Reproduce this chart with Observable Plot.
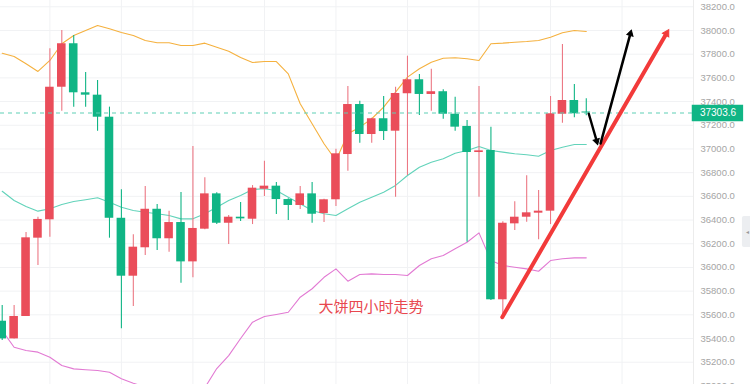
<!DOCTYPE html>
<html><head><meta charset="utf-8">
<script src="https://cdn.jsdelivr.net/npm/d3@7"></script>
<script src="https://cdn.jsdelivr.net/npm/@observablehq/plot@0.6"></script>
<style>
html,body{margin:0;padding:0;background:#fff;}
#chart{width:750px;height:384px;overflow:hidden;}
</style></head><body><div id="chart"></div>
<script>
// ---- data (4h BTC candles) ----
const open  = [35546,35397,35586,36247,36402,37521,37888,37474,37454,37268,36415,35926,36166,36491,36242,36379,36047,36323,36621,36373,36424,36407,36660,36686,36573,36523,36621,36455,36571,36953,37375,37122,37255,37150,37466,37584,37460,37483,37293,37190,36970,36987,35727,36368,36424,36458,36475,37293,37409,37312];
const close = [35397,35586,36250,36405,37521,37888,37474,37454,37268,36415,35926,36171,36491,36242,36379,36047,36329,36621,36373,36424,36410,36669,36686,36573,36523,36621,36449,36571,36959,37375,37122,37255,37147,37468,37584,37460,37483,37293,37184,36970,36984,35727,36373,36424,36461,36475,37297,37409,37297,37303.6];
const high  = [35679,35679,36295,36424,37846,38000,37958,37645,37578,37353,36655,36275,36683,36531,36475,36632,37021,36757,36630,36438,36548,36691,36897,36717,36580,36683,36717,36575,36998,37527,37403,37260,37443,37521,37783,37629,37673,37499,37437,37240,37527,37184,36385,36554,36773,36649,37443,37882,37544,37423];
const low   = [35383,35396,35586,36016,36255,37319,37353,37353,37150,36247,35482,35670,36101,36143,36128,35867,35912,36318,36362,36193,36388,36362,36599,36447,36396,36489,36373,36379,36514,36812,37049,37049,37071,36593,36776,37282,37319,37251,37150,36213,36593,35721,35580,36312,36382,36233,36362,37218,37263,37280];
const bollUpper  = [37808,37781,37719,37654,37747,37888,37958,38000,38042,38014,37983,37958,37916,37896,37896,37873,37873,37893,37859,37825,37772,37730,37738,37738,37634,37381,37212,37044,36903,37128,37184,37255,37353,37479,37606,37677,37732,37766,37770,37761,37747,37888,37893,37901,37907,37916,37943,37981,38000,37992];
const bollMiddle = [36643,36565,36514,36475,36495,36531,36556,36571,36588,36551,36508,36480,36466,36453,36438,36410,36410,36453,36508,36565,36607,36658,36664,36649,36593,36537,36480,36453,36438,36495,36551,36593,36635,36692,36776,36846,36888,36917,36964,36987,37021,36987,36973,36959,36951,36939,36987,37015,37038,37038];
const bollLower  = [35467,35326,35299,35285,35242,35172,35144,35136,35130,35115,35060,35023,34990,34960,34930,34900,34880,34985,35147,35256,35400,35538,35586,35603,35622,35749,35820,35917,35988,35884,35940,35946,35940,35940,35932,36016,36073,36101,36157,36213,36292,36058,36016,36002,35988,35968,36058,36073,36081,36081];
const tickValues = [35000,35200,35400,35600,35800,36000,36200,36400,36600,36800,37000,37200,37400,37600,37800,38000,38200];
const gridIdx = [4,10,16,22,28,34,40,46,52];
const lastPrice = 37303.6;
const noteText = "大饼四小时走势";
const noteX = 26.53, noteY = 35664;
// annotation arrows (candle index, price)
const arrowX1 = [41.95, 49.21, 50.2];
const arrowY1 = [35580, 37297, 37046];
const arrowX2 = [56.12, 50.03, 52.85];
const arrowY2 = [38042, 37012, 38028];
const arrowColor = ["#f23a3a", "#000000", "#000000"];
const arrowWidth = [4, 2.4, 2.6];
const arrowHead = [6.2, 4.6, 4.6];

// ---- build ----
const RED = "#ea4d5a", GREEN = "#10b585";
const xMin = -0.1426, xMax = 57.995, yMin = 35012, yMax = 38253;
const W = 750, H = 384, MR = 57;
const kx = (W - MR) / (xMax - xMin), ky = H / (yMax - yMin);
const candles = open.map((o, i) => ({i, o, c: close[i], h: high[i], l: low[i], up: close[i] >= o}));
const bands = open.map((_, i) => ({i, u: bollUpper[i], m: bollMiddle[i], lo: bollLower[i]}));
const arrows = arrowX1.map((x1, k) => {
  const x2 = arrowX2[k], y1 = arrowY1[k], y2 = arrowY2[k];
  const dxp = (x2 - x1) * kx, dyp = -(y2 - y1) * ky;
  const len = Math.hypot(dxp, dyp), ux = dxp / len, uy = dyp / len;
  const r = arrowHead[k], off = 1.45 * r;
  return {x1, y1, x2, y2, c: arrowColor[k], w: arrowWidth[k], r,
    hx: x2 - ux * off / kx, hy: y2 + uy * off / ky,
    ex: x2 - ux * off * 1.3 / kx, ey: y2 + uy * off * 1.3 / ky,
    rot: Math.atan2(dxp, -dyp) * 180 / Math.PI};
});

const chart = Plot.plot({
  width: W, height: H,
  marginTop: 0, marginBottom: 0, marginLeft: 0, marginRight: MR,
  style: {background: "#fff", fontFamily: "'Liberation Sans', Arial, sans-serif", overflow: "hidden"},
  x: {domain: [xMin, xMax], axis: null},
  y: {domain: [yMin, yMax]},
  color: {type: "identity"},
  marks: [
    Plot.ruleY(tickValues, {stroke: "#f1f2f4", strokeWidth: 1}),
    Plot.ruleX(gridIdx, {stroke: "#f1f2f4", strokeWidth: 1}),
    Plot.ruleX([xMax], {stroke: "#ececec", strokeWidth: 1}),
    Plot.line(bands, {x: "i", y: "u", stroke: "#f5b13f", strokeWidth: 1.1, clip: true}),
    Plot.line(bands, {x: "i", y: "m", stroke: "#62d3ba", strokeWidth: 1.1, clip: true}),
    Plot.line(bands, {x: "i", y: "lo", stroke: "#e27ad3", strokeWidth: 1.1, clip: true}),
    Plot.ruleX(candles, {x: "i", y1: "l", y2: "h", stroke: d => d.up ? "#ec7884" : GREEN, strokeWidth: 1.1}),
    Plot.rect(candles, {x1: d => d.i - 0.36, x2: d => d.i + 0.36, y1: "o", y2: "c", fill: d => d.up ? RED : GREEN}),
    Plot.ruleY([lastPrice], {x1: () => xMin, x2: () => 57.9, stroke: "#5fd0b6", strokeWidth: 1.2, strokeDasharray: "4,4"}),
    Plot.axisY(tickValues, {anchor: "right", tickSize: 0, tickPadding: 7, tickFormat: d => d.toFixed(1), fontSize: 9.5, fill: "#a5a5a5", label: null}),
    Plot.ruleY([lastPrice], {x1: () => 57.89, x2: () => 62.2, stroke: GREEN, strokeWidth: 16.4}),
    Plot.text([lastPrice], {x: () => 60.05, y: d => d, text: d => d.toFixed(1), fill: "#ffffff", fontSize: 10}),
    Plot.rect([0], {x1: () => 62.1, x2: () => 63.0, y1: () => 36168, y2: () => 36430, fill: "#eceef1", rx: 2}),
    Plot.text(["◂"], {x: () => 62.55, y: () => 36299, text: d => d, fill: "#999", fontSize: 6}),
    Plot.text([noteText], {x: () => noteX, y: () => noteY, text: d => d, textAnchor: "start", fontSize: 15, fill: "#e8484f", fontFamily: "'Noto Sans CJK SC', sans-serif"}),
    Plot.link(arrows, {x1: "x1", y1: "y1", x2: "ex", y2: "ey", stroke: "c", strokeWidth: "w", strokeLinecap: "round"}),
    Plot.dot(arrows, {x: "hx", y: "hy", r: "r", rotate: "rot", symbol: "triangle2", fill: "c", stroke: "c", strokeWidth: 1, strokeLinejoin: "miter"})
  ]
});
document.getElementById("chart").append(chart);
</script>
</body></html>
